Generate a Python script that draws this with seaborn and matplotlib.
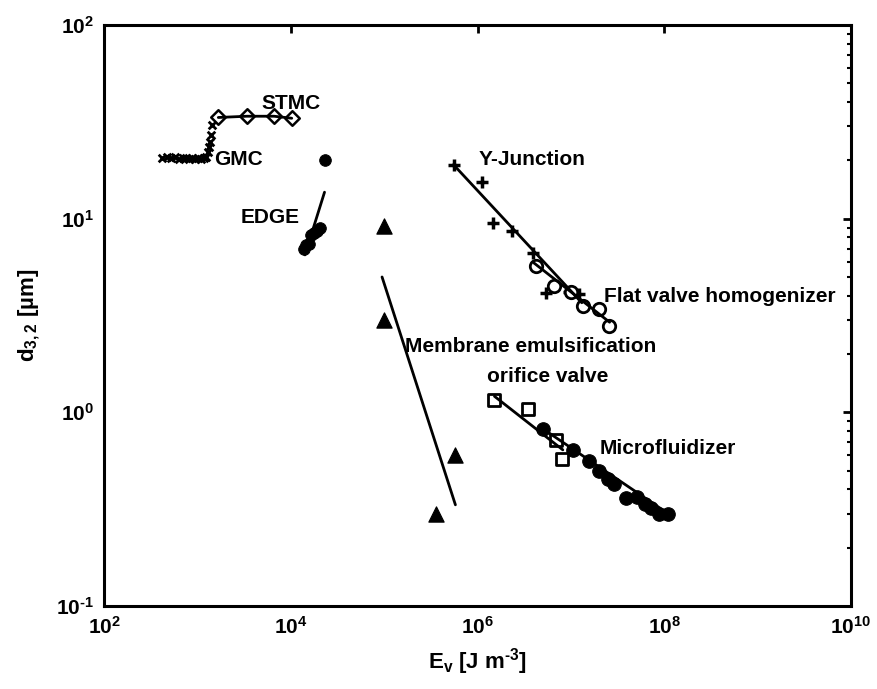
import math
import matplotlib
matplotlib.use("Agg")
import matplotlib.pyplot as plt
import seaborn as sns
from matplotlib.ticker import LogLocator, FuncFormatter, NullLocator, NullFormatter

# ---- data: energy density E_v [J m^-3] vs Sauter diameter d_3,2 [um] ----
gmc_ev = [420, 470, 520, 580, 640, 700, 760, 820, 880, 950, 1020, 1100, 1180, 1250,
          1290, 1320, 1360, 1400, 1430]
gmc_d = [20.6, 20.8, 20.5, 20.7, 20.4, 20.6, 20.5, 20.4, 20.6, 20.3, 20.5, 20.4, 20.6, 20.8,
         22.0, 23.5, 25.0, 27.0, 30.5]

stmc_ev = [1675, 3380, 6630, 10250]
stmc_d = [33.3, 33.8, 33.8, 33.0]

edge_ev = [14000, 14600, 15600, 16600, 17800, 19200, 20600, 23000]
edge_d = [7.0, 7.3, 7.4, 8.2, 8.4, 8.6, 8.9, 20.0]
edge_fit_ev = [14200, 23000]
edge_fit_d = [6.5, 13.7]

membrane_ev = [1.0e5, 1.0e5, 3.6e5, 5.8e5]
membrane_d = [9.2, 3.0, 0.30, 0.60]
membrane_fit_ev = [9.5e4, 5.8e5]
membrane_fit_d = [5.0, 0.333]

yjunction_ev = [5.66e5, 1.11e6, 1.46e6, 2.33e6, 3.89e6, 5.41e6, 9.6e6, 1.21e7]
yjunction_d = [18.9, 15.4, 9.55, 8.64, 6.62, 4.11, 4.2, 4.06]
yjunction_fit_ev = [5.53e5, 1.31e7]
yjunction_fit_d = [19.0, 3.68]

flatvalve_ev = [4.26e6, 6.53e6, 1.0e7, 1.35e7, 1.98e7, 2.54e7]
flatvalve_d = [5.69, 4.49, 4.18, 3.53, 3.43, 2.78]
flatvalve_fit_ev = [3.98e6, 2.6e7]
flatvalve_fit_d = [5.93, 2.92]

orifice_ev = [1.52e6, 3.47e6, 6.9e6, 8.1e6]
orifice_d = [1.16, 1.04, 0.72, 0.575]
orifice_fit_ev = [1.52e6, 8.2e6]
orifice_fit_d = [1.21, 0.64]

micro_ev = [5.0e6, 1.05e7, 1.55e7, 1.98e7, 2.52e7, 2.87e7, 3.9e7, 5.1e7, 6.17e7, 7.2e7,
            8.7e7, 1.11e8]
micro_d = [0.82, 0.636, 0.558, 0.50, 0.454, 0.428, 0.36, 0.365, 0.337, 0.32, 0.298, 0.298]
micro_fit_ev = [4.7e6, 1.1e8]
micro_fit_d = [0.84, 0.30]

labels = ["STMC", "GMC", "EDGE", "Y-Junction", "Flat valve homogenizer",
          "Membrane emulsification", "orifice valve", "Microfluidizer"]
label_ev = [4.8e3, 1.52e3, 2.9e3, 1.03e6, 2.24e7, 1.68e5, 1.26e6, 2.03e7]
label_d = [39.5, 20.1, 10.1, 20.1, 3.98, 2.19, 1.53, 0.65]

HYPHEN = "\N{HYPHEN}"

# ---- styling ----
sns.set_theme(style="white")
plt.rcParams["font.family"] = ["Liberation Sans", "DejaVu Sans"]
plt.rcParams["font.weight"] = "bold"
plt.rcParams["axes.labelcolor"] = "black"
plt.rcParams["text.color"] = "black"
plt.rcParams["mathtext.fontset"] = "custom"
plt.rcParams["mathtext.rm"] = "Liberation Sans:bold"
plt.rcParams["mathtext.bf"] = "Liberation Sans:bold"
plt.rcParams["mathtext.it"] = "Liberation Sans:bold:italic"

fig = plt.figure(figsize=(8.77, 6.89), dpi=100)
ax = fig.add_axes([104 / 877, 83 / 689, 747 / 877, 581 / 689])
ax.set_xscale("log")
ax.set_yscale("log")

K = "black"
LW = 2.0


def fit(xs, ys):
    sns.lineplot(x=xs, y=ys, color=K, lw=LW, ax=ax, estimator=None, sort=False)


# GMC: crosses
sns.scatterplot(x=gmc_ev, y=gmc_d, marker="x", s=30, color=K, linewidth=2.0, ax=ax)

# STMC: open diamonds joined
sns.lineplot(x=stmc_ev, y=stmc_d, color=K, lw=LW, ax=ax, estimator=None, sort=False)
sns.scatterplot(x=stmc_ev, y=stmc_d, marker="D", s=55, facecolor="white",
                edgecolor=K, linewidth=1.8, ax=ax)

# EDGE: filled dots
sns.scatterplot(x=edge_ev, y=edge_d, marker="o", s=70, color=K, edgecolor=K, ax=ax)
fit(edge_fit_ev, edge_fit_d)

# Membrane emulsification: triangles
sns.scatterplot(x=membrane_ev, y=membrane_d, marker="^", s=120, color=K, edgecolor=K, ax=ax)
fit(membrane_fit_ev, membrane_fit_d)

# Y-junction: plus signs
sns.scatterplot(x=yjunction_ev, y=yjunction_d, marker="+", s=70, color=K, linewidth=2.5, ax=ax)
fit(yjunction_fit_ev, yjunction_fit_d)

# Flat valve homogenizer: open circles
sns.scatterplot(x=flatvalve_ev, y=flatvalve_d, marker="o", s=80, facecolor="white",
                edgecolor=K, linewidth=2.0, ax=ax)
fit(flatvalve_fit_ev, flatvalve_fit_d)

# Orifice valve: open squares
fit(orifice_fit_ev, orifice_fit_d)
sns.scatterplot(x=orifice_ev, y=orifice_d, marker="s", s=75, facecolor="white",
                edgecolor=K, linewidth=2.0, ax=ax)

# Microfluidizer: filled circles
fit(micro_fit_ev, micro_fit_d)
sns.scatterplot(x=micro_ev, y=micro_d, marker="o", s=95, color=K, edgecolor=K, ax=ax)

for txt, xv, yv in zip(labels, label_ev, label_d):
    ax.text(xv, yv, txt, ha="left", va="center", fontsize=15, fontweight="bold", color=K)

# ---- axes ----
ax.set_xlim(1e2, 1e10)
ax.set_ylim(1e-1, 1e2)
ax.xaxis.set_major_locator(LogLocator(base=100.0, numticks=10))
ax.xaxis.set_minor_locator(NullLocator())
ax.yaxis.set_major_locator(LogLocator(base=10.0, numticks=10))
ax.yaxis.set_minor_locator(LogLocator(base=10.0, subs=range(2, 10), numticks=20))
ax.yaxis.set_minor_formatter(NullFormatter())


def pow10(v, pos):
    e = int(round(math.log10(v)))
    exp = (HYPHEN + "%d" % -e) if e < 0 else "%d" % e
    return r"$\mathbf{10^{%s}}$" % exp


ax.xaxis.set_major_formatter(FuncFormatter(pow10))
ax.yaxis.set_major_formatter(FuncFormatter(pow10))
ax.tick_params(which="both", direction="in", top=True, right=True, colors=K,
               labelsize=15)
ax.tick_params(which="major", length=6, width=2, pad=7)
ax.tick_params(which="minor", length=3, width=1.5)
for sp in ax.spines.values():
    sp.set_linewidth(2.2)
    sp.set_color(K)
ax.grid(False)

ax.set_xlabel(r"$\mathbf{E_{v}}$ [J m$^{\mathbf{" + HYPHEN + "3}}$]", fontsize=16,
              fontweight="bold", labelpad=6, color=K)
ax.set_ylabel(r"$\mathbf{d_{3,2}}$ [µm]", fontsize=16, fontweight="bold",
              labelpad=10, color=K)

fig.savefig("out.png", dpi=100)
